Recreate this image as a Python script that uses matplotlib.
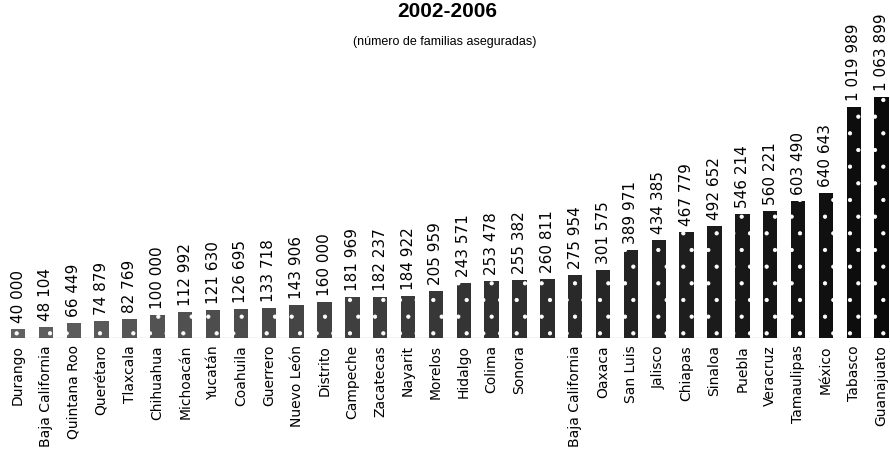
import matplotlib
matplotlib.use('Agg')

import matplotlib.pyplot as plt
import numpy as np

# States, sorted by number of insured families
states = ["Durango", "Baja California", "Quintana Roo", "Querétaro", "Tlaxcala",
          "Chihuahua", "Michoacán", "Yucatán", "Coahuila", "Guerrero",
          "Nuevo León", "Distrito", "Campeche", "Zacatecas", "Nayarit",
          "Morelos", "Hidalgo", "Colima", "Sonora", "", "Baja California",
          "Oaxaca", "San Luis", "Jalisco", "Chiapas", "Sinaloa", "Puebla",
          "Veracruz", "Tamaulipas", "México", "Tabasco", "Guanajuato"]
families = [40000, 48104, 66449, 74879, 82769, 100000, 112992, 121630, 126695,
            133718, 143906, 160000, 181969, 182237, 184922, 205959, 243571,
            253478, 255382, 260811, 275954, 301575, 389971, 434385, 467779,
            492652, 546214, 560221, 603490, 640643, 1019989, 1063899]


def fmt(v):
    # thousands separated by a space
    return f"{v:,}".replace(",", " ")


def main():
    plt.rcParams['hatch.linewidth'] = 0.6

    fig = plt.figure(figsize=(8.9, 4.63), dpi=100)
    ax = fig.add_axes([0, 125 / 463, 1, 338 / 463])

    x = np.arange(len(families))
    # darker fill for the taller bars
    shades = np.linspace(0.38, 0.04, len(families))
    for xi, v, s, name in zip(x, families, shades, states):
        ax.bar(xi, v, width=0.52, color=str(s), edgecolor='white',
               linewidth=0, hatch='.')
        ax.annotate(fmt(v), (xi, v), xytext=(0, 6), textcoords='offset pixels',
                    rotation=90, rotation_mode='anchor', ha='left', va='center',
                    fontsize=11, family='DejaVu Sans')
        # state name hanging below the baseline
        ax.annotate(name, (xi, 0), xytext=(0, -7), textcoords='offset pixels',
                    rotation=90, rotation_mode='anchor', ha='right', va='center',
                    fontsize=10, family='DejaVu Sans', annotation_clip=False)

    ax.set_xlim(-0.65, 31.3)
    ax.set_ylim(0, 1492000)
    ax.axhline(0, xmin=0.01, xmax=0.99, color='0.25', linewidth=0.8)

    ax.set_xticks([])
    ax.set_yticks([])
    for sp in ax.spines.values():
        sp.set_visible(False)
    ax.patch.set_alpha(0)

    fig.text(0.503, 0.995, "2002-2006", ha='center', va='top', fontsize=15,
             fontweight='bold', family='Liberation Sans')
    fig.text(0.5, 0.922, "(número de familias aseguradas)", ha='center',
             va='top', fontsize=9, family='Liberation Sans')

    fig.savefig("out.png", dpi=100)


if __name__ == "__main__":
    main()
